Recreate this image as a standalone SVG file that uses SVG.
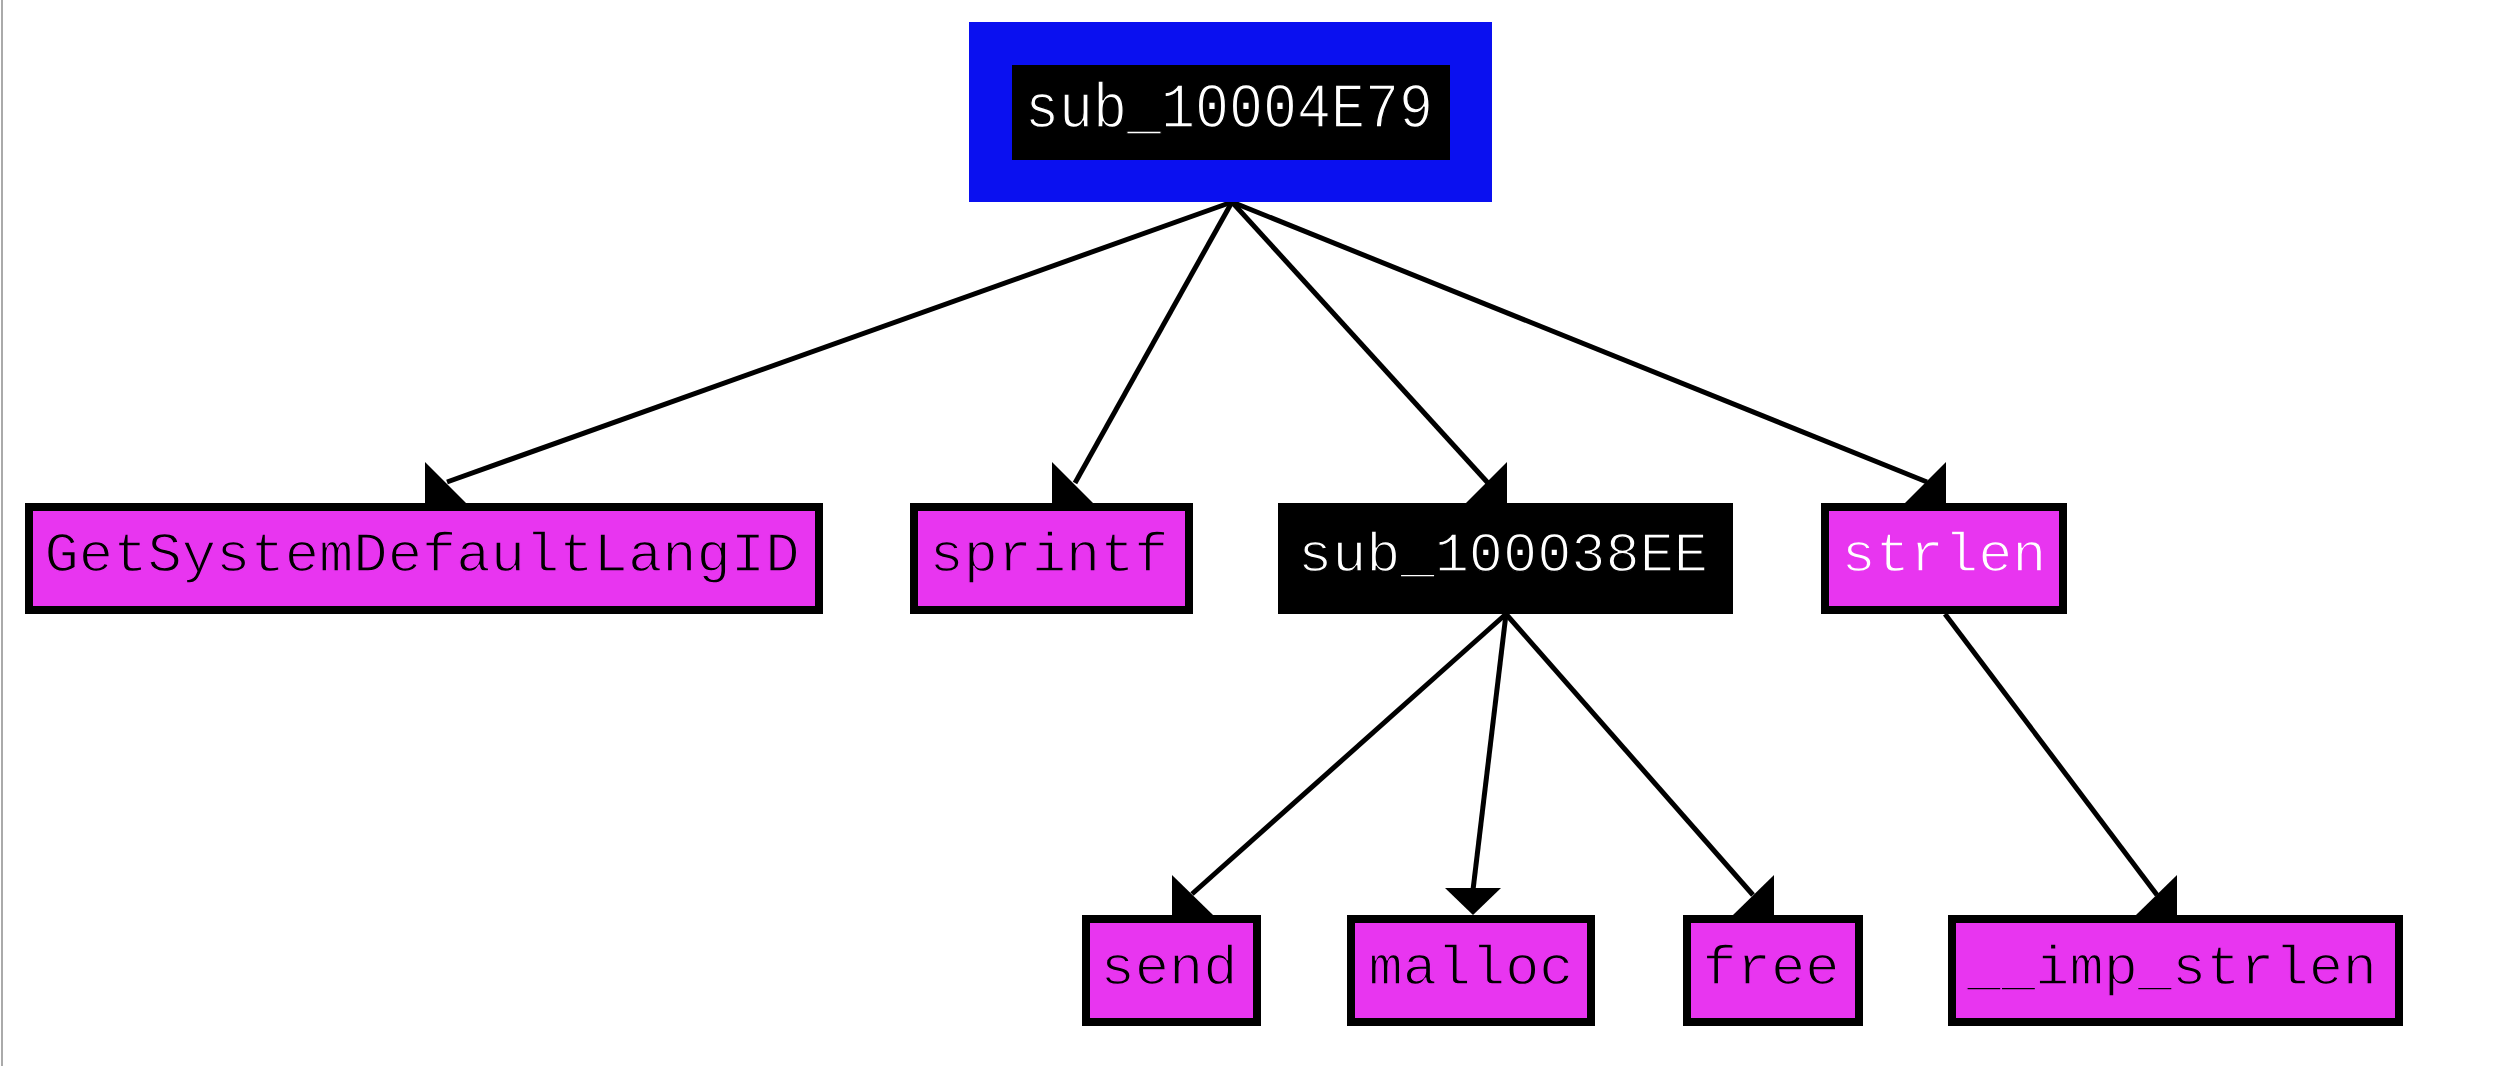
<svg xmlns="http://www.w3.org/2000/svg" width="2504" height="1066" viewBox="0 0 2504 1066">
<style>
.box{fill:#e835f0;stroke:#000;stroke-width:8}
.blk{fill:#000}
.t{font-family:"Liberation Mono","DejaVu Sans Mono",monospace;font-size:56px;text-anchor:middle;stroke-width:1.4}
.dark{fill:#000;stroke:#e835f0}
.light{fill:#fff;stroke:#000}
.lightm{fill:#fff;stroke:#e835f0}
.edge line{stroke:#000;stroke-width:5;fill:none}
.edge polygon{fill:#000}
</style>
<rect width="2504" height="1066" fill="#fff"/>
<line x1="2" y1="0" x2="2" y2="1066" stroke="#aaa" stroke-width="2"/>
<g id="connectors" class="edge">
<line x1="1232" y1="202" x2="447" y2="482"/>
<polygon points="425,462 425,503 466,503"/>
<line x1="1232" y1="202" x2="1075" y2="483"/>
<polygon points="1052,462 1052,503 1093,503"/>
<line x1="1232" y1="202" x2="1488" y2="483"/>
<polygon points="1507,462 1507,503 1466,503"/>
<line x1="1232" y1="202" x2="1927" y2="482"/>
<polygon points="1946,462 1946,503 1905,503"/>
<line x1="1506" y1="614" x2="1192" y2="894"/>
<polygon points="1172,875 1172,915 1213,915"/>
<line x1="1506" y1="614" x2="1473" y2="890"/>
<polygon points="1445,888 1501,888 1473,915"/>
<line x1="1506" y1="614" x2="1753" y2="895"/>
<polygon points="1774,875 1774,915 1733,915"/>
<line x1="1945" y1="614" x2="2157" y2="895"/>
<polygon points="2177,875 2177,915 2136,915"/>
</g>
<g id="n_sub_10004E79">
<rect x="969" y="22" width="523" height="180" fill="#0a10f0"/>
<rect x="1012" y="65" width="438" height="95" class="blk"/>
<text x="1229" y="127" class="t light" style="font-size:63px" textLength="408" lengthAdjust="spacingAndGlyphs">sub_10004E79</text>
</g>
<g id="n_GetSystemDefaultLangID">
<rect x="29" y="507" width="790" height="103" class="box"/>
<text x="422" y="571" class="t dark" textLength="755" lengthAdjust="spacingAndGlyphs">GetSystemDefaultLangID</text>
</g>
<g id="n_sprintf">
<rect x="914" y="507" width="275" height="103" class="box"/>
<text x="1049" y="571" class="t dark" textLength="239" lengthAdjust="spacingAndGlyphs">sprintf</text>
</g>
<g id="n_sub_100038EE">
<rect x="1278" y="503" width="455" height="111" class="blk"/>
<text x="1503" y="571" class="t light" textLength="410" lengthAdjust="spacingAndGlyphs">sub_100038EE</text>
</g>
<g id="n_strlen">
<rect x="1825" y="507" width="238" height="103" class="box"/>
<text x="1944" y="571" class="t lightm" textLength="205" lengthAdjust="spacingAndGlyphs">strlen</text>
</g>
<g id="n_send">
<rect x="1086" y="919" width="171" height="103" class="box"/>
<text x="1169" y="984" class="t dark" textLength="137" lengthAdjust="spacingAndGlyphs">send</text>
</g>
<g id="n_malloc">
<rect x="1351" y="919" width="240" height="103" class="box"/>
<text x="1471" y="984" class="t dark" textLength="205" lengthAdjust="spacingAndGlyphs">malloc</text>
</g>
<g id="n_free">
<rect x="1687" y="919" width="172" height="103" class="box"/>
<text x="1771" y="984" class="t dark" textLength="137" lengthAdjust="spacingAndGlyphs">free</text>
</g>
<g id="n___imp_strlen">
<rect x="1952" y="919" width="447" height="103" class="box"/>
<text x="2172" y="984" class="t dark" textLength="410" lengthAdjust="spacingAndGlyphs">__imp_strlen</text>
</g>
</svg>
